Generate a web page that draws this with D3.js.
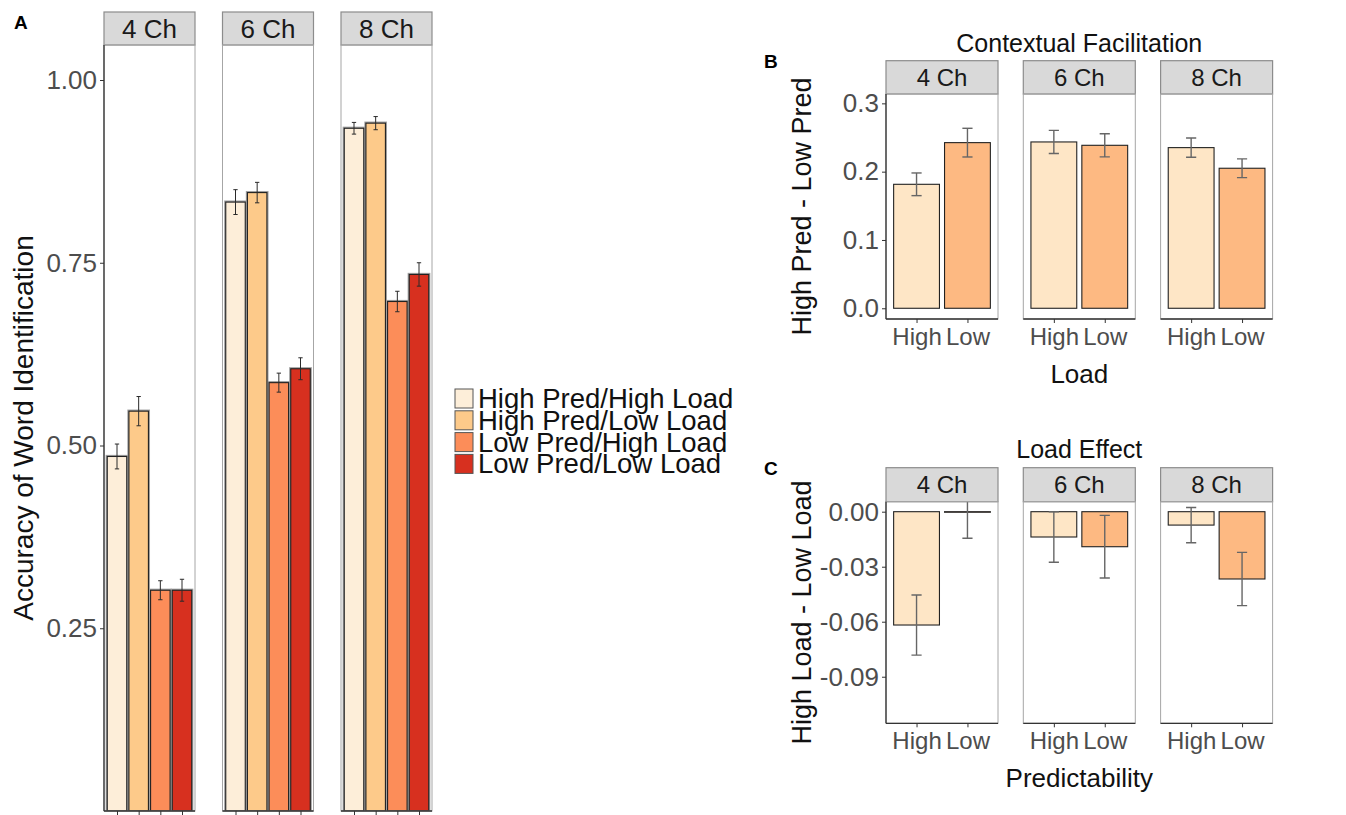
<!DOCTYPE html>
<html>
<head>
<meta charset="utf-8">
<script src="https://cdn.jsdelivr.net/npm/d3@7"></script>
<style>
body { margin: 0; background: #fff; }
text { font-family: "Liberation Sans", Arial, sans-serif; }
</style>
</head>
<body>
<svg id="fig" width="1346" height="815"></svg>
<script>
// ---- data ----
var channels = ["4 Ch", "6 Ch", "8 Ch"];

// panel A
var conditions = ["High Pred/High Load", "High Pred/Low Load", "Low Pred/High Load", "Low Pred/Low Load"];
var condColors = ["#fdeed9", "#fdca8a", "#fc8d59", "#d7301f"];
var accuracy = [
  [0.485, 0.547, 0.302, 0.302],
  [0.833, 0.846, 0.586, 0.605],
  [0.934, 0.941, 0.697, 0.734]
];
var accuracySE = [
  [0.017, 0.020, 0.013, 0.015],
  [0.017, 0.014, 0.013, 0.015],
  [0.008, 0.009, 0.014, 0.016]
];
var accTicks = [0.25, 0.50, 0.75, 1.00];

// panels B and C
var levels = ["High", "Low"];
var pairColors = ["#fee6c6", "#fdb982"];
var facilitation = [
  [0.1815, 0.2425],
  [0.2435, 0.2386],
  [0.2352, 0.2050]
];
var facilitationSE = [
  [0.0166, 0.0210],
  [0.0170, 0.0170],
  [0.0140, 0.0137]
];
var facTicks = [0.0, 0.1, 0.2, 0.3];

var loadEffect = [
  [-0.0618, -0.0003],
  [-0.0138, -0.0191],
  [-0.0073, -0.0367]
];
var loadEffectSE = [
  [0.0164, 0.0142],
  [0.0138, 0.0171],
  [0.0096, 0.0145]
];
var loadTicks = [0.00, -0.03, -0.06, -0.09];

var svg = d3.select("#fig");
var clipId = 0;

// draws one row of three facets
function facetRow(cfg) {
  var panelTop = cfg.stripTop + cfg.stripH;
  var y = d3.scaleLinear().domain(cfg.yDomain).range([cfg.panelBottom, panelTop]);
  var x = d3.scalePoint().domain(cfg.cats).range([0, cfg.width]).padding(0.6);
  var bw = x.step() * 0.9;

  channels.forEach(function(ch, i) {
    var g = svg.append("g")
      .attr("transform", "translate(" + (cfg.left + i * cfg.step) + ",0)");

    // strip
    g.append("rect")
      .attr("x", 0).attr("y", cfg.stripTop)
      .attr("width", cfg.width).attr("height", cfg.stripH)
      .attr("fill", "#d9d9d9").attr("stroke", "#8c8c8c").attr("stroke-width", 1.2);
    g.append("text")
      .attr("x", cfg.width / 2)
      .attr("y", cfg.stripTop + cfg.stripH / 2 + cfg.stripFont * 0.36)
      .attr("text-anchor", "middle")
      .attr("font-size", cfg.stripFont)
      .attr("fill", "#1a1a1a")
      .text(ch);

    // clip to panel
    var id = "clip" + (clipId++);
    g.append("clipPath").attr("id", id)
      .append("rect")
      .attr("x", 0).attr("y", panelTop)
      .attr("width", cfg.width).attr("height", cfg.panelBottom - panelTop);
    var p = g.append("g").attr("clip-path", "url(#" + id + ")");

    var rows = cfg.cats.map(function(c, j) {
      return { cat: c, v: cfg.values[i][j], e: cfg.errs[i][j], col: cfg.colors[j] };
    });

    if (cfg.halo) {
      p.selectAll("rect.halo").data(rows).enter().append("rect")
        .attr("class", "halo")
        .attr("x", function(d) { return x(d.cat) - bw / 2; })
        .attr("y", function(d) { return Math.min(y(d.v), y(0)); })
        .attr("width", bw)
        .attr("height", function(d) { return Math.abs(y(d.v) - y(0)); })
        .attr("fill", "none").attr("stroke", "#a0a0a0").attr("stroke-width", 3.2);
    }
    p.selectAll("rect.bar").data(rows).enter().append("rect")
      .attr("class", "bar")
      .attr("x", function(d) { return x(d.cat) - bw / 2; })
      .attr("y", function(d) { return Math.min(y(d.v), y(0)); })
      .attr("width", bw)
      .attr("height", function(d) { return Math.max(0.01, Math.abs(y(d.v) - y(0))); })
      .attr("fill", function(d) { return d.col; })
      .attr("stroke", "#222").attr("stroke-width", 1.1);

    // error bars
    var cw = x.step() * 0.2 / 2;
    var eb = p.selectAll("g.err").data(rows).enter().append("g")
      .attr("stroke", cfg.errColor).attr("stroke-width", cfg.errWidth);
    eb.append("line")
      .attr("x1", function(d) { return x(d.cat); }).attr("x2", function(d) { return x(d.cat); })
      .attr("y1", function(d) { return y(d.v - d.e); }).attr("y2", function(d) { return y(d.v + d.e); });
    eb.append("line")
      .attr("x1", function(d) { return x(d.cat) - cw; }).attr("x2", function(d) { return x(d.cat) + cw; })
      .attr("y1", function(d) { return y(d.v + d.e); }).attr("y2", function(d) { return y(d.v + d.e); });
    eb.append("line")
      .attr("x1", function(d) { return x(d.cat) - cw; }).attr("x2", function(d) { return x(d.cat) + cw; })
      .attr("y1", function(d) { return y(d.v - d.e); }).attr("y2", function(d) { return y(d.v - d.e); });

    // panel border
    g.append("rect")
      .attr("x", 0).attr("y", panelTop)
      .attr("width", cfg.width).attr("height", cfg.panelBottom - panelTop)
      .attr("fill", "none").attr("stroke", "#a6a6a6").attr("stroke-width", 1);

    // x axis on every facet
    var xa = g.append("g")
      .attr("transform", "translate(0," + cfg.panelBottom + ")")
      .call(d3.axisBottom(x).tickSize(4).tickPadding(3).tickSizeOuter(0)
        .tickFormat(cfg.showX ? null : function() { return ""; }));
    xa.select(".domain").attr("stroke", "#333").attr("stroke-width", 1.3)
      .attr("d", "M0,0H" + cfg.width);
    xa.selectAll(".tick line").attr("stroke", "#333");
    xa.selectAll(".tick text")
      .attr("font-size", cfg.xFont).attr("fill", "#4d4d4d")
      .attr("font-family", "Liberation Sans, Arial, sans-serif")
      .attr("dy", "0.8em");

    // y axis only on first facet
    if (i === 0) {
      var ya = g.append("g")
        .call(d3.axisLeft(y).tickValues(cfg.ticks).tickSize(4).tickPadding(3).tickSizeOuter(0)
          .tickFormat(cfg.fmt));
      ya.select(".domain").attr("stroke", "#333").attr("stroke-width", 1.3)
        .attr("d", "M0," + panelTop + "V" + cfg.panelBottom);
      ya.selectAll(".tick line").attr("stroke", "#333");
      ya.selectAll(".tick text")
        .attr("font-size", cfg.yFont).attr("fill", "#4d4d4d")
        .attr("font-family", "Liberation Sans, Arial, sans-serif");
    }
  });

  // axis titles
  var midY = (panelTop + cfg.panelBottom) / 2;
  svg.append("text")
    .attr("transform", "translate(" + cfg.yTitleX + "," + midY + ") rotate(-90)")
    .attr("text-anchor", "middle")
    .attr("font-size", cfg.titleFont)
    .attr("fill", "#111")
    .text(cfg.yTitle);
  var midX = cfg.left + (2 * cfg.step + cfg.width) / 2;
  if (cfg.xTitle) {
    svg.append("text")
      .attr("x", midX).attr("y", cfg.xTitleY)
      .attr("text-anchor", "middle")
      .attr("font-size", cfg.xTitleFont)
      .attr("fill", "#111")
      .text(cfg.xTitle);
  }
  if (cfg.title) {
    svg.append("text")
      .attr("x", midX).attr("y", cfg.titleY)
      .attr("text-anchor", "middle")
      .attr("font-size", 25)
      .attr("fill", "#111")
      .text(cfg.title);
  }
}

// Panel A
facetRow({
  left: 104, step: 118.5, width: 91,
  stripTop: 12, stripH: 33, panelBottom: 811,
  yDomain: [0, 1.0479], ticks: accTicks,
  fmt: function(d) { return d.toFixed(2); },
  cats: conditions, colors: condColors,
  values: accuracy, errs: accuracySE,
  halo: true, errColor: "#2a2a2a", errWidth: 1,
  showX: false, stripFont: 26, xFont: 24, yFont: 26,
  yTitle: "Accuracy of Word Identification", yTitleX: 33, titleFont: 28
});

// legend for panel A
var leg = svg.append("g").attr("transform", "translate(455,389)");
conditions.forEach(function(c, i) {
  leg.append("rect")
    .attr("x", 0).attr("y", i * 21.8)
    .attr("width", 18).attr("height", 19)
    .attr("fill", condColors[i]).attr("stroke", "#555").attr("stroke-width", 1);
  leg.append("text")
    .attr("x", 23).attr("y", i * 21.8 + 19)
    .attr("font-size", 27.5)
    .attr("fill", "#111")
    .text(c);
});

// Panel B
facetRow({
  left: 886, step: 137.3, width: 112,
  stripTop: 60.7, stripH: 33.3, panelBottom: 319,
  yDomain: [-0.0157, 0.3137], ticks: facTicks,
  fmt: function(d) { return d.toFixed(1); },
  cats: levels, colors: pairColors,
  values: facilitation, errs: facilitationSE,
  halo: false, errColor: "#666", errWidth: 1.4,
  showX: true, stripFont: 24, xFont: 24, yFont: 26,
  yTitle: "High Pred - Low Pred", yTitleX: 811, titleFont: 27,
  xTitle: "Load", xTitleY: 383, xTitleFont: 26,
  title: "Contextual Facilitation", titleY: 52
});

// Panel C
facetRow({
  left: 886, step: 137.3, width: 112,
  stripTop: 467.7, stripH: 34, panelBottom: 723.3,
  yDomain: [-0.1154, 0.00545], ticks: loadTicks,
  fmt: function(d) { return d.toFixed(2); },
  cats: levels, colors: pairColors,
  values: loadEffect, errs: loadEffectSE,
  halo: false, errColor: "#666", errWidth: 1.4,
  showX: true, stripFont: 24, xFont: 24, yFont: 26,
  yTitle: "High Load - Low Load", yTitleX: 811, titleFont: 27,
  xTitle: "Predictability", xTitleY: 787, xTitleFont: 26,
  title: "Load Effect", titleY: 458
});

// panel letters
[["A", 14, 29], ["B", 764, 68], ["C", 764, 475]].forEach(function(l) {
  svg.append("text")
    .attr("x", l[1]).attr("y", l[2])
    .attr("font-size", 19).attr("font-weight", "bold")
    .attr("fill", "#000")
    .text(l[0]);
});
</script>
</body>
</html>
